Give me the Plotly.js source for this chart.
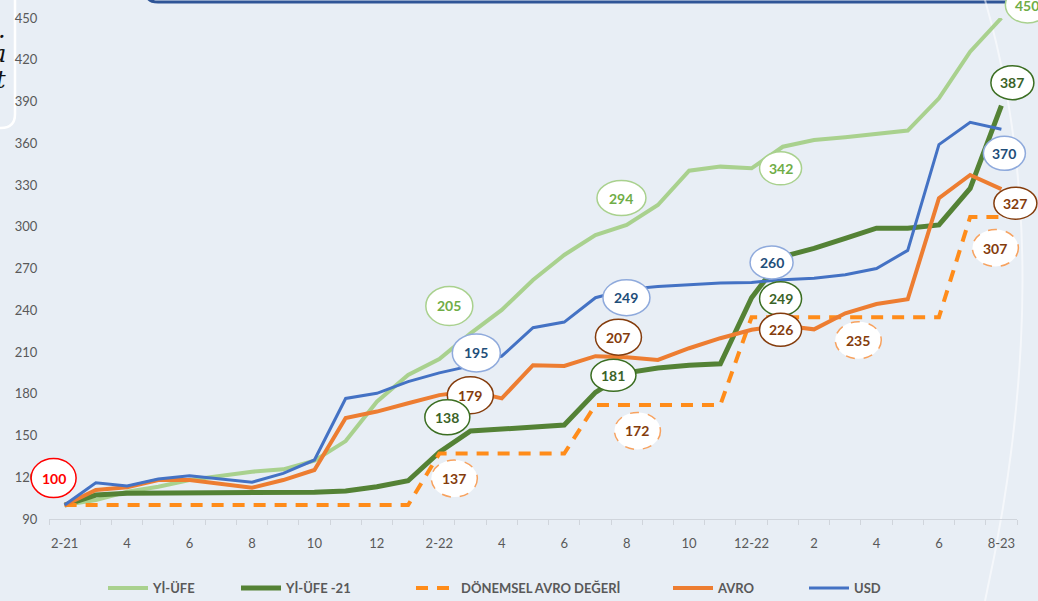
<!DOCTYPE html>
<html>
<head>
<meta charset="utf-8">
<script src="https://cdn.plot.ly/plotly-3.0.1.min.js"></script>
<style>
html,body{margin:0;padding:0;background:#e8eef5;}
#chart{width:1038px;height:601px;}
</style>
</head>
<body>
<div id="chart"></div>
<script>
// ---------------- DATA ----------------
const months = ["2-21","3-21","4-21","5-21","6-21","7-21","8-21","9-21","10-21","11-21","12-21",
  "1-22","2-22","3-22","4-22","5-22","6-22","7-22","8-22","9-22","10-22","11-22","12-22",
  "1-23","2-23","3-23","4-23","5-23","6-23","7-23","8-23"];
const tickLabels = ["2-21","4","6","8","10","12","2-22","4","6","8","10","12-22","2","4","6","8-23"];
const tickIndex = [0,2,4,6,8,10,12,14,16,18,20,22,24,26,28,30];

const seriesNames = ["Yİ-ÜFE","Yİ-ÜFE -21","DÖNEMSEL AVRO DEĞERİ","AVRO","USD"];

const yiufe   = [100,103.6,109.6,113.2,118,121,124,125.7,131.9,146,174.3,193.5,205,223.4,240.2,261.7,279.7,294,301.3,315.6,340.3,343.2,342,357.5,362.3,364.3,366.7,369.1,392.3,425.8,450];
const yiufe21 = [100,107.2,108.5,108.5,108.5,108.5,108.5,108.5,109.2,110.1,113.2,117.5,138,153.2,154.4,155.9,157.5,181,195,198.5,200.5,201.5,249,278.5,284.5,291.7,299,299,301.3,327.6,387];
const donemsel= [100,100,100,100,100,100,100,100,100,100,100,100,137,137,137,137,137,172,172,172,172,172,235,235,235,235,235,235,235,307,307];
const avro    = [100,110.8,112.8,118,118,115.6,112.5,118,125.2,162.6,167.2,173.2,179,182,176.7,200.5,200,207,206.2,204.3,212.7,219.9,226,229,226.3,237.8,244.5,247.9,320.5,337.2,327];
const usd     = [100,116,113.7,118.7,121,118.5,116.4,122.8,132.4,176.6,180.3,188.7,195,200,207,227.5,231.5,249,255,257,258.5,259.5,260,262,263,265.5,270,283,359,375,370];

// ---------------- STYLE / LAYOUT ----------------
const W = 1038, H = 601;
const M = {l:49, r:21, t:18, b:82, autoexpand:false};
const PW = W - M.l - M.r, PH = H - M.t - M.b;
const X_RANGE = [-0.5, months.length - 0.5];
const Y_RANGE = [90, 450];
const px2x = p => (p - M.l) / PW;           // pixel -> paper x
const py2y = p => (H - M.b - p) / PH;       // pixel -> paper y
const xi = months.map((_, i) => i);

const lineStyles = [
  {color:'#A9D18E', width:4, dash:'solid'},
  {color:'#548235', width:5, dash:'solid'},
  {color:'#FF8C1A', width:4, dash:'12px,9px'},
  {color:'#ED7D31', width:4, dash:'solid'},
  {color:'#4472C4', width:3, dash:'solid'}
];
const dataSets = [yiufe, yiufe21, donemsel, avro, usd];
const legendIds = ['legend','legend2','legend3','legend4','legend5'];
const legendPx = [103, 236, 411, 668, 804];

const traces = dataSets.map((d, k) => ({
  type:'scatter', mode:'lines', x: xi, y: d, name: seriesNames[k],
  line: {color: lineStyles[k].color, width: lineStyles[k].width, dash: lineStyles[k].dash},
  legend: legendIds[k], hoverinfo:'skip'
}));

const labelStyle = [
  {text:'#70AD47', border:'#A9D18E', dash:'solid'},
  {text:'#3B6327', border:'#3B6E22', dash:'solid'},
  {text:'#843C0C', border:'#F7A25F', dash:'dash'},
  {text:'#843C0C', border:'#843C0C', dash:'solid'},
  {text:'#1F4E79', border:'#8FAADC', dash:'solid'}
];
const redStyle = {text:'#FF0000', border:'#FF0000', dash:'solid'};

// label placement: series index, point index, pixel offset of ellipse centre, ellipse size
const labelSpecs = [
  {s:0, i:0,  dx:-11, dy:-27, w:45, h:39, red:true},
  {s:0, i:12, dx:10,  dy:-53, w:47, h:39},
  {s:4, i:12, dx:37,  dy:-20, w:48, h:38},
  {s:3, i:12, dx:31,  dy:0,   w:46, h:37},
  {s:1, i:12, dx:8,   dy:-35, w:45, h:35},
  {s:2, i:12, dx:15,  dy:25,  w:46, h:37},
  {s:0, i:17, dx:26,  dy:-37, w:49, h:35},
  {s:4, i:17, dx:31,  dy:0,   w:47, h:36},
  {s:3, i:17, dx:23,  dy:-19, w:46, h:36},
  {s:1, i:17, dx:18,  dy:-17, w:45, h:32},
  {s:2, i:17, dx:42,  dy:26,  w:46, h:37},
  {s:0, i:22, dx:29,  dy:0,   w:42, h:33},
  {s:4, i:22, dx:20,  dy:-20, w:43, h:33},
  {s:1, i:22, dx:29,  dy:1,   w:42, h:34},
  {s:3, i:22, dx:29,  dy:0,   w:42, h:33},
  {s:2, i:25, dx:13,  dy:23,  w:46, h:37},
  {s:0, i:30, dx:26,  dy:-13, w:44, h:36},
  {s:1, i:30, dx:11,  dy:-23, w:43, h:34},
  {s:4, i:30, dx:3,   dy:24,  w:42, h:34},
  {s:3, i:30, dx:14,  dy:14,  w:43, h:32},
  {s:2, i:30, dx:-6,  dy:31,  w:46, h:37}
];

const shapes = [];
const annotations = [];
labelSpecs.forEach(L => {
  const v = dataSets[L.s][L.i];
  const st = L.red ? redStyle : labelStyle[L.s];
  shapes.push({
    type:'circle', layer:'above',
    xref:'paper', yref:'paper',
    xsizemode:'pixel', ysizemode:'pixel',
    xanchor: (L.i - X_RANGE[0]) / (X_RANGE[1] - X_RANGE[0]),
    yanchor: (v - Y_RANGE[0]) / (Y_RANGE[1] - Y_RANGE[0]),
    x0: L.dx - L.w/2, x1: L.dx + L.w/2,
    y0: -L.dy - L.h/2, y1: -L.dy + L.h/2,
    fillcolor:'#FFFFFF',
    line:{color: st.border, width:1.5, dash: st.dash}
  });
  annotations.push({
    xref:'x', yref:'y', x: L.i, y: v, xshift: L.dx, yshift: -L.dy,
    text: String(Math.round(v)), showarrow:false,
    font:{family:'Lato, "Open Sans", sans-serif', size:14, color: st.text, weight:'bold'}
  });
});

// decorations: top frame edge, left text box, light arc
shapes.push({
  type:'path', xref:'paper', yref:'paper', layer:'below',
  path:`M${px2x(147)},${py2y(-6)} Q${px2x(147)},${py2y(2)} ${px2x(158)},${py2y(2)} L${px2x(1045)},${py2y(2)}`,
  line:{color:'#2F5597', width:3}
});
shapes.push({
  type:'path', xref:'paper', yref:'paper', layer:'below',
  path:`M${px2x(15)},${py2y(-6)} L${px2x(15)},${py2y(114)} Q${px2x(15)},${py2y(128)} ${px2x(1)},${py2y(128)} L${px2x(-8)},${py2y(128)}`,
  line:{color:'#FFFFFF', width:2.5}
});
shapes.push({
  type:'path', xref:'paper', yref:'paper', layer:'below',
  path:`M${px2x(985)},${py2y(0)} Q${px2x(1060)},${py2y(260)} ${px2x(985)},${py2y(601)}`,
  line:{color:'rgba(255,255,255,0.55)', width:2}
});
[[".",30],["a",54],["t",80]].forEach(([t, y]) => {
  annotations.push({
    xref:'paper', yref:'paper', x: px2x(8), y: py2y(y), xanchor:'right', yanchor:'middle',
    text:t, showarrow:false,
    font:{family:'"DejaVu Serif", "Liberation Serif", serif', size:24, color:'#111111', style:'italic'}
  });
});

const tickFont = {family:'Lato, "Open Sans", sans-serif', size:13, color:'#595959'};
const layout = {
  width: W, height: H,
  margin: M,
  paper_bgcolor:'#e8eef5',
  plot_bgcolor:'rgba(0,0,0,0)',
  xaxis:{
    range: X_RANGE, tickvals: tickIndex, ticktext: tickLabels,
    showgrid:false, zeroline:false, showline:true, linecolor:'#d0d5dc', linewidth:1,
    ticks:'outside', ticklen:12, tickcolor:'rgba(0,0,0,0)',
    minor:{tick0:-0.5, dtick:1, ticks:'outside', ticklen:5, tickcolor:'#d0d5dc', showgrid:false},
    tickfont: tickFont, fixedrange:true, automargin:false
  },
  yaxis:{
    range: Y_RANGE, tick0:90, dtick:30,
    showgrid:false, zeroline:false, showline:false,
    ticks:'outside', ticklen:8, tickcolor:'rgba(0,0,0,0)',
    tickfont: tickFont, fixedrange:true, automargin:false
  },
  shapes, annotations,
  showlegend:true
};
legendIds.forEach((id, k) => {
  layout[id] = {
    orientation:'h', x: px2x(legendPx[k]), y: py2y(588), xanchor:'left', yanchor:'middle',
    bgcolor:'rgba(0,0,0,0)', borderwidth:0,
    font:{family:'Lato, "Open Sans", sans-serif', size:13, color:'#595959', weight:'bold'},
    itemwidth:40
  };
});

Plotly.newPlot('chart', traces, layout, {displayModeBar:false, staticPlot:true});
</script>
</body>
</html>
